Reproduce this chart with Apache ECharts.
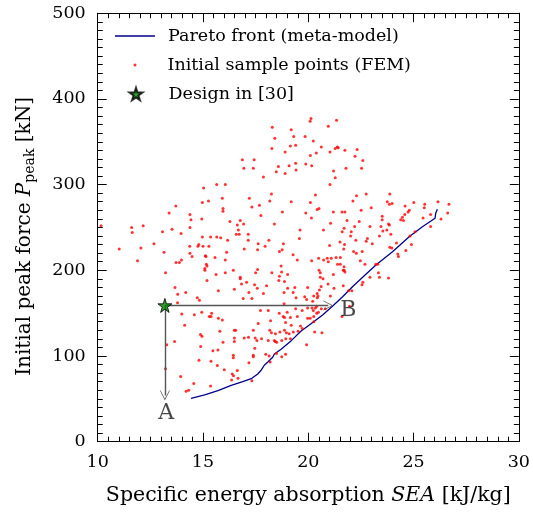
<!DOCTYPE html>
<html><head><meta charset="utf-8">
<script src="https://cdn.jsdelivr.net/npm/echarts@6/dist/echarts.min.js"></script>
<style>html,body{margin:0;padding:0;background:#fff}#c{width:533px;height:513px}</style>
</head><body><div id="c"></div><script>
const sampleSEA = [20.13,20.09,18.29,19.19,19.31,19.85,18.41,20.24,19.40,19.15,18.27,18.90,20.10,16.87,17.43,19.40,19.88,18.58,19.09,20.16,16.94,17.39,19.42,18.48,18.90,17.87,15.65,16.06,15.03,18.25,15.92,17.20,15.26,18.17,19.19,14.97,20.10,13.71,17.32,17.68,15.95,15.95,13.39,14.38,19.88,18.77,17.75,14.43,14.94,20.15,16.28,16.77,10.16,12.16,11.61,14.38,16.63,16.93,18.39,13.53,16.68,19.61,11.64,13.08,13.96,16.58,16.72,17.15,14.97,15.36,15.65,15.84,16.17,17.15,18.13,19.58,12.67,14.37,14.80,14.76,15.00,15.28,17.62,18.82,11.02,12.05,16.96,17.59,17.95,18.76,18.63,13.15,14.38,16.12,19.28,14.48,15.11,15.14,15.57,11.89,13.98,13.72,13.88,16.06,19.48,20.16,15.16,15.19,18.71,15.09,15.09,16.44,17.59,18.73,13.22,15.62,16.06,17.50,18.27,19.02,18.63,16.77,16.77,
21.34,20.95,20.62,21.38,21.28,21.42,21.03,21.74,22.32,20.38,22.22,22.59,21.79,21.20,22.53,21.28,21.03,20.34,22.75,22.29,23.87,22.12,23.75,23.85,23.98,25.01,26.16,26.68,25.53,25.51,24.60,22.99,20.42,20.51,21.19,21.60,21.74,22.51,24.80,24.74,26.62,25.81,24.58,24.47,24.39,24.52,25.45,23.51,23.51,26.30,21.84,22.42,21.06,23.81,23.85,25.81,22.20,21.70,22.93,23.45,20.72,21.61,22.04,23.54,23.73,23.92,22.01,23.38,24.83,25.07,22.26,22.81,22.75,21.51,23.04,21.72,21.01,24.90,21.68,23.87,23.97,24.19,22.15,22.28,22.56,24.63,20.49,20.73,20.90,20.95,21.09,21.32,21.52,24.25,24.28,22.47,21.39,21.52,21.70,21.70,21.74,21.66,22.69,23.21,23.30,20.51,20.57,21.19,23.33,23.38,20.70,22.93,23.81,
18.02,18.60,18.87,13.67,13.80,14.18,15.19,15.73,16.49,16.83,17.07,17.18,17.45,17.58,17.87,18.85,19.02,19.36,19.28,19.97,19.83,19.92,19.42,18.85,14.73,14.83,13.79,16.91,17.32,17.73,18.10,19.00,19.40,19.71,19.97,20.24,13.99,14.59,14.94,15.41,15.30,15.38,15.73,15.92,18.62,18.81,18.87,19.15,19.48,19.97,17.62,18.21,18.92,19.19,19.63,14.13,16.49,16.55,15.80,17.39,16.96,17.16,17.48,17.56,18.17,18.25,18.44,18.65,18.87,18.96,19.09,19.29,19.52,19.71,14.88,14.95,16.49,16.49,17.78,18.10,18.39,18.43,18.50,18.74,18.93,19.15,13.65,15.95,19.92,13.28,14.89,17.46,15.47,15.71,17.98,18.14,18.19,18.49,18.74,18.92,16.44,16.44,17.39,17.39,14.81,15.38,17.18,15.68,13.22,16.01,16.63,16.39,16.45,16.66,13.94,16.36,17.32,14.56,15.36,14.20,14.32,
20.57,20.94,21.66,20.61,20.53,20.42,20.46,20.43,21.22,21.91,22.07,22.55,22.59,21.05,20.26,20.21,20.40,20.18,20.34,20.62,20.81,21.96,21.60,20.26,20.40,20.48,20.09,20.26,20.30,20.65];
const samplePeak = [377,374,367,364,356,356,354,351,346,345,342,338,334,329,329,325,324,321,322,322,319,319,317,315,313,309,300,300,296,289,284,284,281,281,280,279,279,275,274,276,272,269,267,265,267,268,264,259,260,261,257,258,252,252,250,250,253,254,254,248,247,247,244,245,243,242,242,242,239,239,239,238,235,235,235,237,231,228,230,228,228,228,231,231,225,226,225,224,228,224,222,221,220,221,218,216,217,216,215,211,212,209,209,212,212,211,207,205,205,202,200,200,201,198,197,195,197,197,197,195,193,192,190,
375,368,344,344,342,343,338,340,341,337,333,328,319,316,319,308,300,288,289,287,289,281,280,277,278,279,280,277,277,273,275,273,271,272,268,268,268,270,270,268,267,265,265,262,259,258,261,263,259,260,258,257,255,254,253,251,251,249,251,251,247,245,245,246,247,242,240,240,240,245,235,237,234,233,231,230,229,230,225,227,226,232,222,220,222,223,214,212,214,210,214,215,215,219,216,211,207,207,204,200,198,200,207,207,207,200,197,195,197,192,190,192,191,
182,188,187,180,172,174,188,176,178,184,186,174,183,179,173,174,179,180,174,180,169,166,168,161,168,165,162,167,167,153,153,151,155,153,156,153,149,148,151,150,146,146,144,142,150,146,145,145,146,144,138,141,139,136,135,136,130,130,129,130,121,122,121,118,130,127,126,128,130,127,126,128,129,132,125,123,121,117,120,118,118,117,116,118,120,120,117,116,113,113,111,109,106,107,102,100,93,103,99,102,101,98,101,99,95,94,92,89,85,84,83,79,77,74,76,72,71,68,65,59,60,
192,184,182,181,177,173,170,168,179,176,176,183,186,170,170,164,158,156,156,155,155,158,146,146,150,151,144,140,128,127];
const frontSEA = [14.43,15.08,15.71,16.34,16.89,17.32,17.60,17.77,17.92,18.08,18.31,18.39,18.71,19.19,19.66,20.05,20.68,21.16,21.63,22.10,22.58,23.21,24.00,24.79,25.42,26.02,26.05,26.13];
const frontPeak = [50.6,54.5,59.5,65.8,70.0,74.0,79.0,83.7,89.5,93.0,98.5,102.3,107.8,117.9,129.2,136.2,147.8,158.3,169.2,180.9,191.8,206.2,221.7,239.2,250.9,260.7,266.5,271.2];
const designSEA = [13.19];
const designPeak = [159];
const arrowFromSEA = [13.19, 13.19];
const arrowFromPeak = [159, 159];
const arrowToSEA = [13.19, 20.95];
const arrowToPeak = [54, 159];
const noteText = ['A', 'B'];
const noteSEA = [13.25, 21.9];
const notePeak = [33, 153];
const xTicks = [10, 30, 5];
const yTicks = [0, 500, 100];

const F = 'DejaVu Serif';
const zip = (a, b) => a.map((v, i) => [v, b[i]]);
const STAR = 'path://M50,0 L61,35 L98,35 L68,57 L79,91 L50,70 L21,91 L32,57 L2,35 L39,35 Z';
const CHEV = 'path://M0,10 L5,0 L10,10 L9.3,10 L5,1.6 L0.7,10 Z';

function axisBase(min, max, interval, pos, labels) {
  return {
    type: 'value', min, max, interval, position: pos,
    axisLine: { show: true, onZero: false, lineStyle: { color: '#000', width: 1 } },
    axisTick: { show: true, inside: true, length: 9, lineStyle: { color: '#000', width: 1 } },
    minorTick: { show: true, splitNumber: 10, length: 5, lineStyle: { color: '#000', width: 1 } },
    splitLine: { show: false },
    axisLabel: { show: labels, fontFamily: F, fontSize: 17.5, color: '#000', margin: 12 }
  };
}

const xMain = Object.assign(axisBase(xTicks[0], xTicks[1], xTicks[2], 'bottom', true), {
  name: 'Specific energy absorption {i|SEA} [kJ/kg]', nameLocation: 'middle', nameGap: 43,
  nameTextStyle: { fontFamily: F, fontSize: 20.5, color: '#000', rich: { i: { fontFamily: F, fontSize: 20.5, fontStyle: 'italic', color: '#000' } } }
});
const yMain = Object.assign(axisBase(yTicks[0], yTicks[1], yTicks[2], 'left', true), {
  name: 'Initial peak force {i|P}{s|peak} [kN]', nameLocation: 'middle', nameGap: 60,
  nameTextStyle: { fontFamily: F, fontSize: 20, color: '#000', lineHeight: 26, padding: [0, 18, 0, 0],
    rich: { i: { fontFamily: F, fontSize: 20, fontStyle: 'italic', color: '#000', lineHeight: 26 },
            s: { fontFamily: F, fontSize: 14, color: '#000', verticalAlign: 'bottom', lineHeight: 16, padding: [7, 0, 0, 0] } } }
});
const xTop = axisBase(xTicks[0], xTicks[1], xTicks[2], 'top', false);
const yRight = axisBase(yTicks[0], yTicks[1], yTicks[2], 'right', false);

const legendText = { fontFamily: F, fontSize: 17.5, color: '#000' };
const chart = echarts.init(document.getElementById('c'), null, { renderer: 'canvas' });
chart.setOption({
  animation: false,
  backgroundColor: '#fff',
  grid: { left: 97.7, right: 13, top: 13.2, bottom: 71.3, containLabel: false },
  xAxis: [xMain, xTop],
  yAxis: [yMain, yRight],
  legend: [
    { data: [{ name: 'Pareto front (meta-model)', icon: 'rect' }], left: 115, top: 27, padding: 0, itemWidth: 40, itemHeight: 1.4, selectedMode: false,
      itemStyle: { color: '#00008b' }, textStyle: Object.assign({ padding: [0, 0, 0, 8] }, legendText) },
    { data: ['Initial sample points (FEM)'], left: 133.5, top: 56, padding: 0, itemWidth: 3, itemHeight: 3, selectedMode: false,
      textStyle: Object.assign({ padding: [0, 0, 0, 26] }, legendText) },
    { data: ['Design in [30]'], left: 128.5, top: 85, padding: 0, itemWidth: 13, itemHeight: 13, selectedMode: false,
      textStyle: Object.assign({ padding: [0, 0, 0, 21] }, legendText) }
  ],
  series: [
    { name: 'Pareto front (meta-model)', type: 'line', data: zip(frontSEA, frontPeak), symbol: 'none', showSymbol: false,
      lineStyle: { color: '#00008b', width: 1.3 }, itemStyle: { color: '#00008b' }, z: 3 },
    { name: 'Initial sample points (FEM)', type: 'scatter', data: zip(sampleSEA, samplePeak), symbol: 'circle', symbolSize: 3,
      itemStyle: { color: '#ff0000' }, z: 4 },
    { type: 'lines', coordinateSystem: 'cartesian2d', z: 5,
      data: arrowFromSEA.map((v, i) => ({ coords: [[v, arrowFromPeak[i]], [arrowToSEA[i], arrowToPeak[i]]] })),
      symbol: ['none', CHEV], symbolSize: [9, 10],
      lineStyle: { color: '#555', width: 1.4, opacity: 1 } },
    { name: 'Design in [30]', type: 'scatter', data: zip(designSEA, designPeak), symbol: STAR, symbolSize: 14,
      itemStyle: { color: '#008000', borderColor: '#000', borderWidth: 1 }, z: 6 },
    { type: 'scatter', symbolSize: 0, z: 7, silent: true,
      data: noteText.map((t, i) => ({ name: t, value: [noteSEA[i], notePeak[i]] })),
      label: { show: true, position: 'inside', formatter: p => p.name, fontFamily: F, fontSize: 22, color: '#1a1a1a' } }
  ]
});
</script></body></html>
